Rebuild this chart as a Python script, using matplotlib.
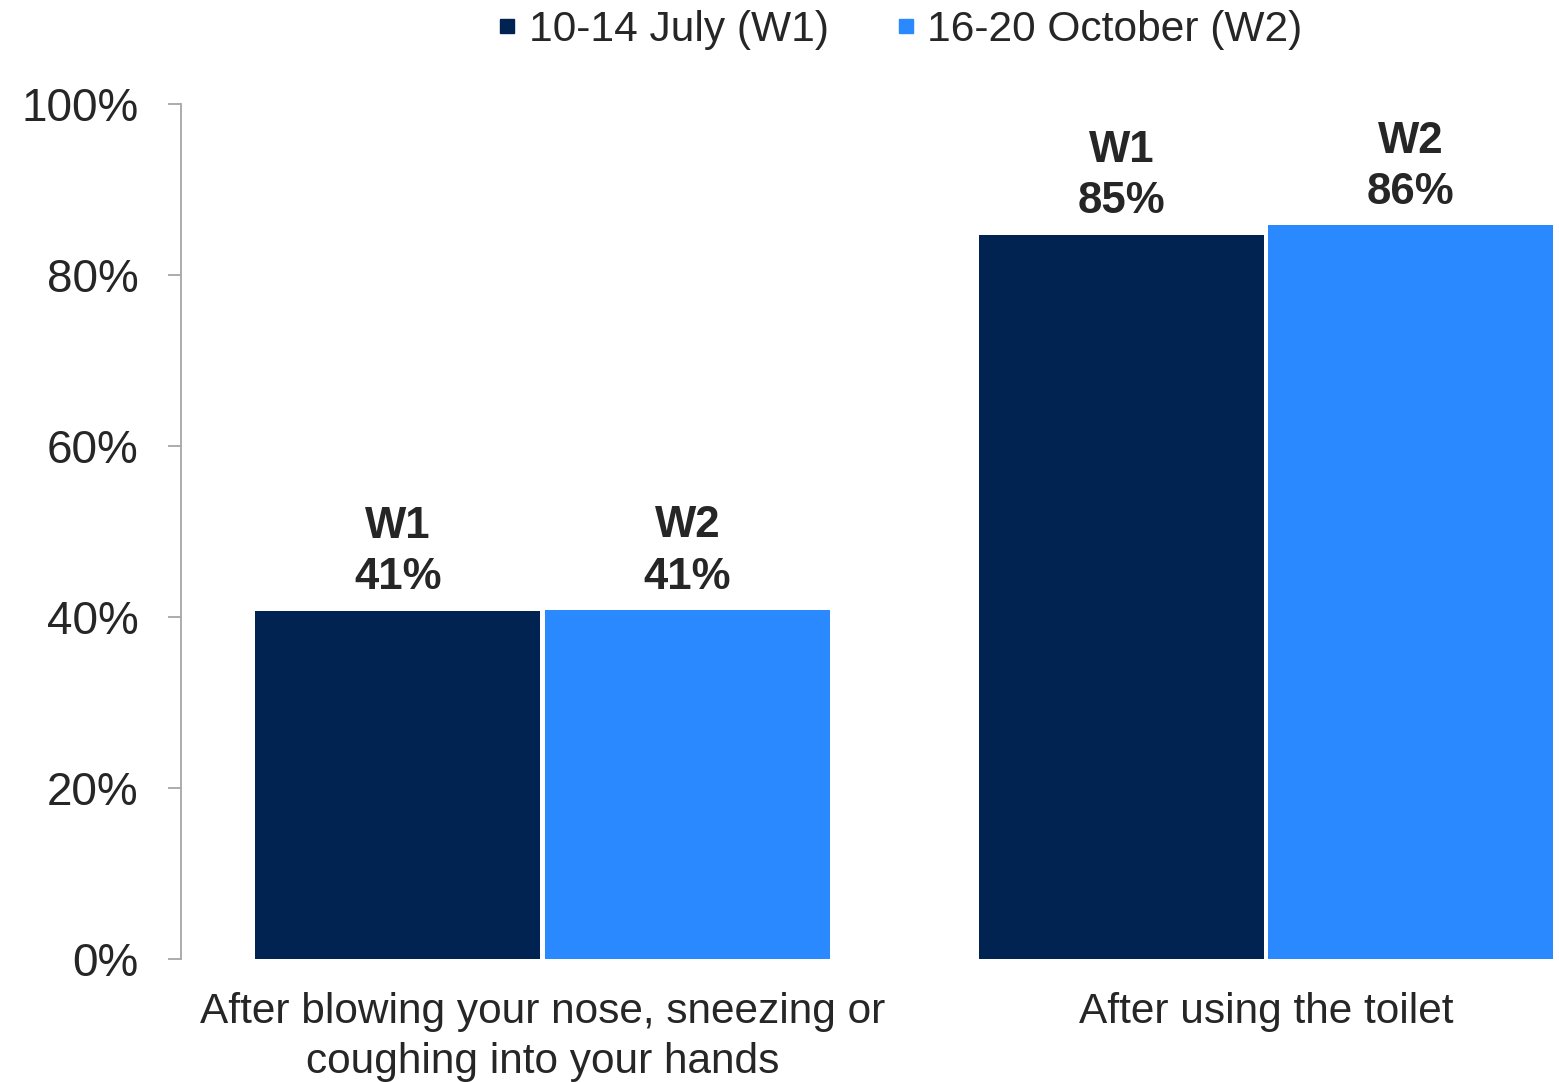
import matplotlib
matplotlib.use('Agg')
import matplotlib.pyplot as plt
from matplotlib.lines import Line2D
import numpy as np

# Data
categories = ['After blowing your nose, sneezing or\ncoughing into your hands', 'After using the toilet']
series_names = ['10-14 July (W1)', '16-20 October (W2)']
series_short = ['W1', 'W2']
w1_values = [40.7, 84.7]
w2_values = [40.8, 85.8]
y_ticks = [0, 20, 40, 60, 80, 100]
y_tick_labels = ['0%', '20%', '40%', '60%', '80%', '100%']

colors = ['#002352', '#2B89FF']
text_color = '#262626'
axis_color = '#A6A6A6'


def main():
    plt.rcParams['font.family'] = ['Liberation Sans', 'DejaVu Sans']

    fig = plt.figure(figsize=(15.59, 10.82), dpi=100)
    ax = fig.add_axes([0.1161, 0.1137, 0.8801, 0.7902])

    x = np.arange(len(categories))
    width = 0.394
    offset = 0.2

    # Draw bars for both waves
    for i, values in enumerate([w1_values, w2_values]):
        pos = x + (offset if i == 1 else -offset)
        bars = ax.bar(pos, values, width, color=colors[i], label=series_names[i])
        for bar, v in zip(bars, values):
            ax.annotate(f'{series_short[i]}\n{round(v)}%',
                        xy=(bar.get_x() + bar.get_width() / 2, v),
                        xytext=(0, 9), textcoords='offset points',
                        ha='center', va='bottom', fontsize=31.5, fontweight='bold',
                        color=text_color, linespacing=1.32)

    ax.set_xlim(-0.5, 1.397)
    ax.set_ylim(0, 100)

    # Axes styling
    for side in ['top', 'right', 'bottom']:
        ax.spines[side].set_visible(False)
    ax.spines['left'].set_color(axis_color)
    ax.spines['left'].set_linewidth(1.3)

    ax.set_yticks(y_ticks)
    ax.set_yticklabels(y_tick_labels)
    ax.tick_params(axis='y', direction='out', length=9.5, width=1.3, color=axis_color,
                   labelsize=33, labelcolor=text_color, pad=21)
    ax.set_xticks(x)
    ax.set_xticklabels(categories, linespacing=1.3)
    ax.tick_params(axis='x', length=0, labelsize=30.5, labelcolor=text_color, pad=24)

    # Legend at the top with square markers
    handles = [Line2D([], [], marker='s', linestyle='', markersize=10,
                      markerfacecolor=c, markeredgecolor=c) for c in colors]
    fig.legend(handles, series_names, loc='center', bbox_to_anchor=(0.577, 1 - 30 / 1082),
               ncol=2, frameon=False, fontsize=30.6, handlelength=0.5, handletextpad=0.25,
               columnspacing=1.57, labelcolor=text_color, borderpad=0, borderaxespad=0)

    fig.savefig('out.png', dpi=100)


if __name__ == "__main__":
    main()
